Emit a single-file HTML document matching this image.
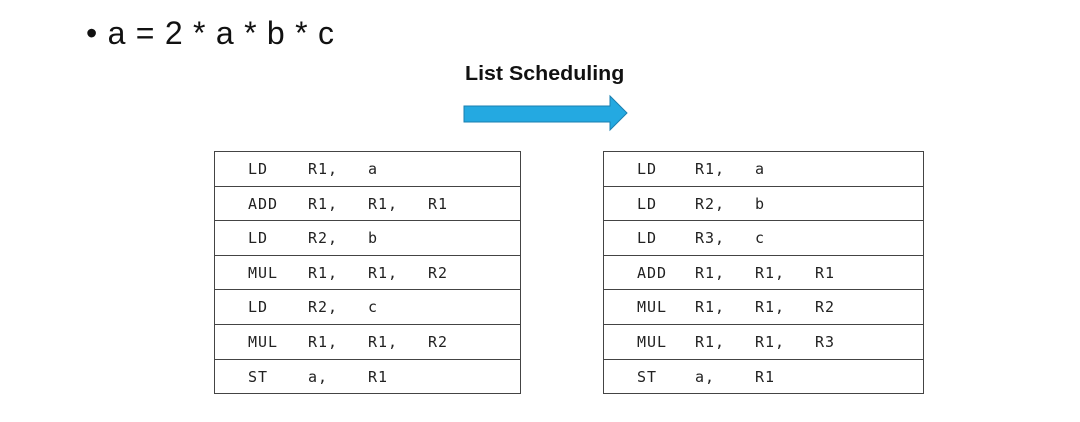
<!DOCTYPE html>
<html><head><style>
body{margin:0;width:1080px;height:422px;background:#fff;position:relative;overflow:hidden;font-family:"Liberation Sans",sans-serif}
.t{position:absolute;border-collapse:collapse;font-family:"DejaVu Sans Mono","Liberation Mono",monospace;font-size:15px;letter-spacing:1px;color:#222}
.t td{border:1px solid #444;height:33.6px;padding:0;position:relative}
.t span{position:absolute;top:8px}
</style></head><body>
<div style="position:absolute;left:86px;top:15px;font-size:32px;color:#111;white-space:pre;word-spacing:1.5px">• a = 2 * a * b * c</div>
<div style="position:absolute;left:465px;top:63px;font-size:20px;font-weight:bold;color:#111;transform:scaleX(1.07);transform-origin:left">List Scheduling</div>
<svg style="position:absolute;left:0;top:0" width="1080" height="422">
<polygon points="464,106 610,106 610,96 627,113 610,130 610,122 464,122" fill="#24a9e1" stroke="#1a7fb0" stroke-width="1"/>
</svg>
<table class="t" style="left:214px;top:151px;width:307px">
<tr><td><span style="left:33px">LD</span><span style="left:93px">R1,</span><span style="left:153px">a</span></td></tr>
<tr><td><span style="left:33px">ADD</span><span style="left:93px">R1,</span><span style="left:153px">R1,</span><span style="left:213px">R1</span></td></tr>
<tr><td><span style="left:33px">LD</span><span style="left:93px">R2,</span><span style="left:153px">b</span></td></tr>
<tr><td><span style="left:33px">MUL</span><span style="left:93px">R1,</span><span style="left:153px">R1,</span><span style="left:213px">R2</span></td></tr>
<tr><td><span style="left:33px">LD</span><span style="left:93px">R2,</span><span style="left:153px">c</span></td></tr>
<tr><td><span style="left:33px">MUL</span><span style="left:93px">R1,</span><span style="left:153px">R1,</span><span style="left:213px">R2</span></td></tr>
<tr><td><span style="left:33px">ST</span><span style="left:93px">a,</span><span style="left:153px">R1</span></td></tr>
</table>
<table class="t" style="left:603px;top:151px;width:321px">
<tr><td><span style="left:33px">LD</span><span style="left:91px">R1,</span><span style="left:151px">a</span></td></tr>
<tr><td><span style="left:33px">LD</span><span style="left:91px">R2,</span><span style="left:151px">b</span></td></tr>
<tr><td><span style="left:33px">LD</span><span style="left:91px">R3,</span><span style="left:151px">c</span></td></tr>
<tr><td><span style="left:33px">ADD</span><span style="left:91px">R1,</span><span style="left:151px">R1,</span><span style="left:211px">R1</span></td></tr>
<tr><td><span style="left:33px">MUL</span><span style="left:91px">R1,</span><span style="left:151px">R1,</span><span style="left:211px">R2</span></td></tr>
<tr><td><span style="left:33px">MUL</span><span style="left:91px">R1,</span><span style="left:151px">R1,</span><span style="left:211px">R3</span></td></tr>
<tr><td><span style="left:33px">ST</span><span style="left:91px">a,</span><span style="left:151px">R1</span></td></tr>
</table>
</body></html>
